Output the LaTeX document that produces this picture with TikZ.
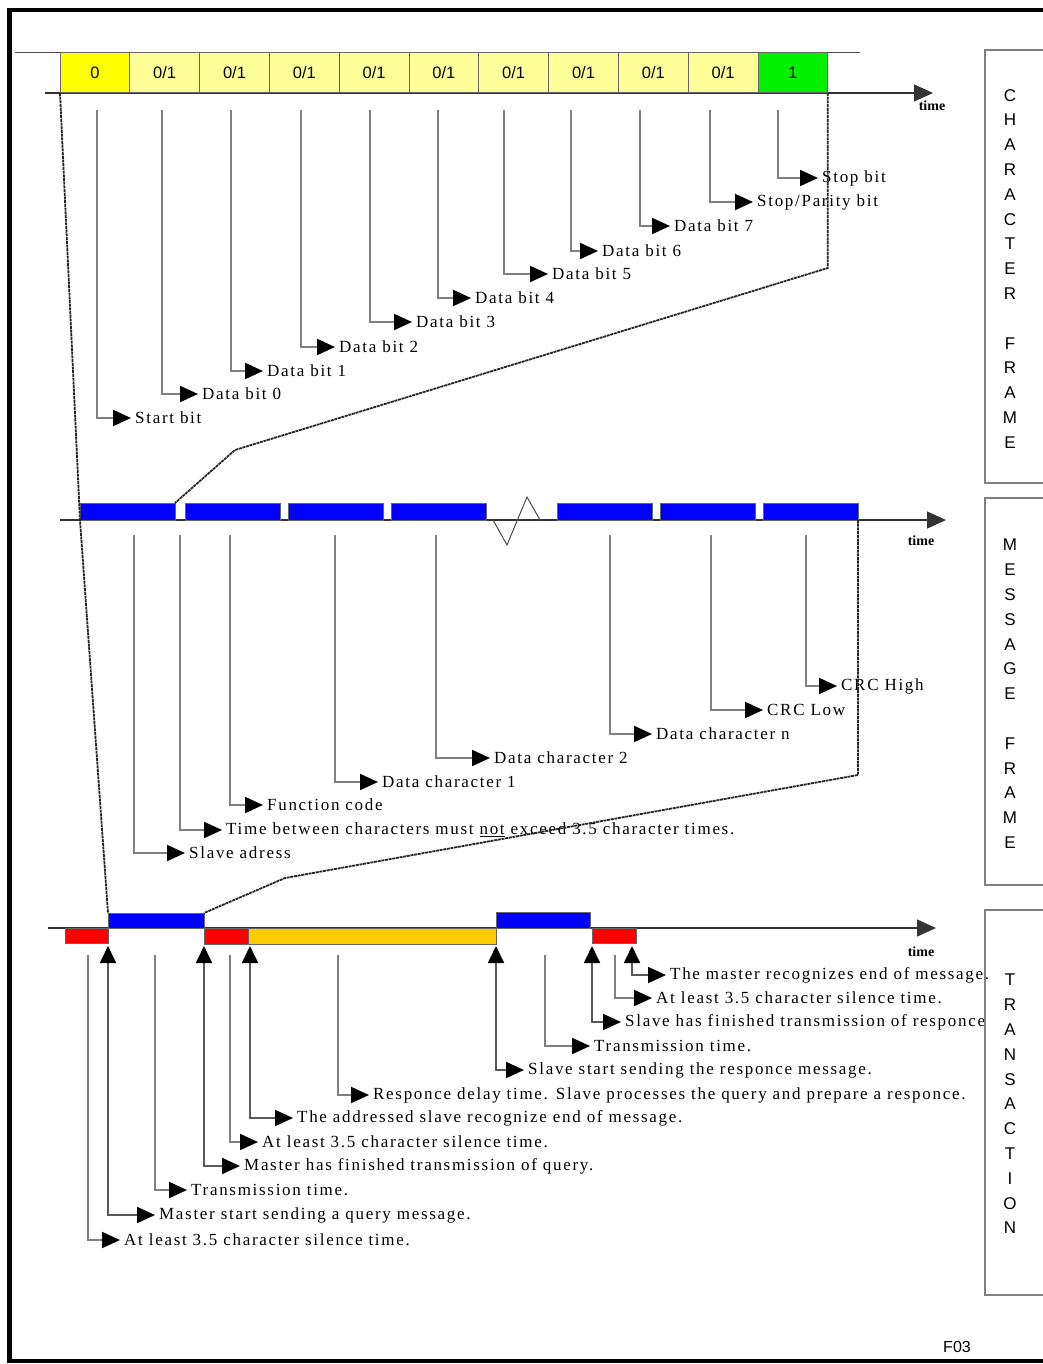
\documentclass[tikz,border=0pt]{standalone}
\usepackage{fontspec}
\setmainfont{Liberation Serif}
\setsansfont{Liberation Sans}
\newfontfamily\lblfont[LetterSpace=10]{Liberation Serif}
\usepackage{tikz}
\usetikzlibrary{arrows.meta, positioning, calc}

\definecolor{startyellow}{HTML}{FFFF00}
\definecolor{bityellow}{HTML}{FFFF99}
\definecolor{stopgreen}{HTML}{00F000}
\definecolor{msgblue}{HTML}{0000FF}
\definecolor{silred}{HTML}{FF0000}
\definecolor{delayorange}{HTML}{FFCC00}

\begin{document}
\begin{tikzpicture}[
  x=1pt, y=-1pt,
  bitbox/.style = {draw=black!60, line width=1pt, anchor=north west, outer sep=0pt, inner sep=0pt,
                   minimum width=69.8pt, minimum height=40pt, font=\fontsize{16.5}{18}\selectfont\sffamily},
  blk/.style = {draw=black!60, line width=0.8pt, anchor=north west, outer sep=0pt, inner sep=0pt},
  lbl/.style = {anchor=west, inner sep=4pt, font=\fontsize{17}{19}\lblfont},
  pointer/.style = {black!50, line width=2pt, -{Triangle[length=18pt, width=16pt, color=black]}},
  uppointer/.style = {black!65, line width=1.8pt,
                      {Triangle[length=17pt, width=16pt, color=black]}-{Triangle[length=18pt, width=16pt, color=black]}},
  timeaxis/.style = {black!80, line width=1.2pt, -{Triangle[length=19pt, width=17pt]}},
  zoomline/.style = {black!85, line width=1.8pt, dash pattern=on 3pt off 0.7pt},
  sidebox/.style = {draw=gray, line width=2pt},
  sidetxt/.style = {anchor=north, inner sep=0pt, align=center, font=\fontsize{17}{24.8}\selectfont\sffamily},
  timelbl/.style = {inner sep=0pt, font=\fontsize{14}{16}\selectfont\bfseries}
]
  \useasboundingbox (0,0) rectangle (1042,1364);
  \draw[line width=4.5pt] (9.5,10) rectangle (1060,1361);

  % Character frame
  \draw[black!70, line width=1pt] (15,53) -- (860,53);
  \draw[timeaxis] (45,93) -- (933,93);
  \node[timelbl] (t_char) at (932,106) {time};

  \node[bitbox, fill=startyellow] (b0) at (60,53) {0};
  \node[bitbox, fill=bityellow, right=0pt of b0] (b1) {0/1};
  \node[bitbox, fill=bityellow, right=0pt of b1] (b2) {0/1};
  \node[bitbox, fill=bityellow, right=0pt of b2] (b3) {0/1};
  \node[bitbox, fill=bityellow, right=0pt of b3] (b4) {0/1};
  \node[bitbox, fill=bityellow, right=0pt of b4] (b5) {0/1};
  \node[bitbox, fill=bityellow, right=0pt of b5] (b6) {0/1};
  \node[bitbox, fill=bityellow, right=0pt of b6] (b7) {0/1};
  \node[bitbox, fill=bityellow, right=0pt of b7] (b8) {0/1};
  \node[bitbox, fill=bityellow, right=0pt of b8] (b9) {0/1};
  \node[bitbox, fill=stopgreen, right=0pt of b9] (b10) {1};

  \coordinate (c_start) at (97,110);
  \node[lbl] (l_start) at (131,418) {Start bit};
  \coordinate (c_d0) at (162,110);
  \node[lbl] (l_d0) at (198,394) {Data bit 0};
  \coordinate (c_d1) at (231,110);
  \node[lbl] (l_d1) at (263,371) {Data bit 1};
  \coordinate (c_d2) at (301,110);
  \node[lbl] (l_d2) at (335,347) {Data bit 2};
  \coordinate (c_d3) at (370,110);
  \node[lbl] (l_d3) at (412,322) {Data bit 3};
  \coordinate (c_d4) at (438,110);
  \node[lbl] (l_d4) at (471,298) {Data bit 4};
  \coordinate (c_d5) at (504,110);
  \node[lbl] (l_d5) at (548,274) {Data bit 5};
  \coordinate (c_d6) at (571,110);
  \node[lbl] (l_d6) at (598,251) {Data bit 6};
  \coordinate (c_d7) at (640,110);
  \node[lbl] (l_d7) at (670,226) {Data bit 7};
  \coordinate (c_sp) at (710,110);
  \node[lbl] (l_sp) at (753,202) {Stop/Parity bit};
  \coordinate (c_stop) at (778,110);
  \node[lbl] (l_stop) at (818,178) {Stop bit};

  \draw[pointer] (c_start) |- (l_start.west);
  \draw[pointer] (c_d0) |- (l_d0.west);
  \draw[pointer] (c_d1) |- (l_d1.west);
  \draw[pointer] (c_d2) |- (l_d2.west);
  \draw[pointer] (c_d3) |- (l_d3.west);
  \draw[pointer] (c_d4) |- (l_d4.west);
  \draw[pointer] (c_d5) |- (l_d5.west);
  \draw[pointer] (c_d6) |- (l_d6.west);
  \draw[pointer] (c_d7) |- (l_d7.west);
  \draw[pointer] (c_sp) |- (l_sp.west);
  \draw[pointer] (c_stop) |- (l_stop.west);

  % Message frame
  \draw[timeaxis] (60,520) -- (946,520);
  \node[timelbl] (t_msg) at (921,541) {time};

  \node[blk, fill=msgblue, minimum width=95pt, minimum height=17pt] (m1) at (80,503) {};
  \node[blk, fill=msgblue, minimum width=95pt, minimum height=17pt, right=10pt of m1] (m2) {};
  \node[blk, fill=msgblue, minimum width=95pt, minimum height=17pt, right=8pt of m2] (m3) {};
  \node[blk, fill=msgblue, minimum width=95pt, minimum height=17pt, right=8pt of m3] (m4) {};
  \node[blk, fill=msgblue, minimum width=95pt, minimum height=17pt] (m5) at (557,503) {};
  \node[blk, fill=msgblue, minimum width=95pt, minimum height=17pt, right=8pt of m5] (m6) {};
  \node[blk, fill=msgblue, minimum width=95pt, minimum height=17pt, right=8pt of m6] (m7) {};
  \draw[black!70, line width=1pt] (493,520) -- (507,545) -- (527,497) -- (540,520);

  \coordinate (c_slave) at (134,535);
  \node[lbl] (l_slave) at (185,853) {Slave adress};
  \coordinate (c_gap) at (180,535);
  \node[lbl] (l_gap) at (222,830) {Time between characters must \underline{not} exceed 3.5 character times.};
  \coordinate (c_func) at (230,535);
  \node[lbl] (l_func) at (263,805) {Function code};
  \coordinate (c_dc1) at (335,535);
  \node[lbl] (l_dc1) at (378,782) {Data character 1};
  \coordinate (c_dc2) at (436,535);
  \node[lbl] (l_dc2) at (490,758) {Data character 2};
  \coordinate (c_dcn) at (610,535);
  \node[lbl] (l_dcn) at (652,734) {Data character n};
  \coordinate (c_crcl) at (711,535);
  \node[lbl] (l_crcl) at (763,710) {CRC Low};
  \coordinate (c_crch) at (806,535);
  \node[lbl] (l_crch) at (837,686) {CRC High};

  \draw[pointer] (c_slave) |- (l_slave.west);
  \draw[pointer] (c_gap) |- (l_gap.west);
  \draw[pointer] (c_func) |- (l_func.west);
  \draw[pointer] (c_dc1) |- (l_dc1.west);
  \draw[pointer] (c_dc2) |- (l_dc2.west);
  \draw[pointer] (c_dcn) |- (l_dcn.west);
  \draw[pointer] (c_crcl) |- (l_crcl.west);
  \draw[pointer] (c_crch) |- (l_crch.west);

  % Transaction
  \draw[timeaxis] (48,928) -- (936,928);
  \node[timelbl] (t_tr) at (921,952) {time};

  \node[blk, fill=silred, minimum width=43pt, minimum height=15pt] (q_r1) at (65,928) {};
  \node[blk, fill=msgblue, minimum width=96pt, minimum height=15pt] (q_b1) at (108,913) {};
  \node[blk, fill=silred, minimum width=44pt, minimum height=16pt] (q_r2) at (204,928) {};
  \node[blk, fill=delayorange, minimum width=248pt, minimum height=16pt] (q_o) at (248,928) {};
  \node[blk, fill=msgblue, minimum width=94pt, minimum height=16pt] (q_b2) at (496,912) {};
  \node[blk, fill=silred, minimum width=44pt, minimum height=15pt] (q_r3) at (592,928) {};

  \coordinate (u_mrec) at (632,946);
  \node[lbl] (l_mrec) at (666,975) {The master recognizes end of message.};
  \coordinate (c_sil3) at (615,955);
  \node[lbl] (l_sil3) at (652,998) {At least 3.5 character silence time.};
  \coordinate (u_sfin) at (592,946);
  \node[lbl] (l_sfin) at (621,1022) {Slave has finished transmission of responce};
  \coordinate (c_tx2) at (545,955);
  \node[lbl] (l_tx2) at (590,1046) {Transmission time.};
  \coordinate (u_sst) at (496,946);
  \node[lbl] (l_sst) at (524,1070) {Slave start sending the responce message.};
  \coordinate (c_delay) at (338,955);
  \node[lbl] (l_delay) at (369,1095) {Responce delay time. Slave processes the query and prepare a responce.};
  \coordinate (u_srec) at (250,946);
  \node[lbl] (l_srec) at (293,1118) {The addressed slave recognize end of message.};
  \coordinate (c_sil2) at (230,955);
  \node[lbl] (l_sil2) at (258,1142) {At least 3.5 character silence time.};
  \coordinate (u_mfin) at (204,946);
  \node[lbl] (l_mfin) at (240,1166) {Master has finished transmission of query.};
  \coordinate (c_tx1) at (155,955);
  \node[lbl] (l_tx1) at (187,1190) {Transmission time.};
  \coordinate (u_mst) at (108,946);
  \node[lbl] (l_mst) at (155,1215) {Master start sending a query message.};
  \coordinate (c_sil1) at (88,955);
  \node[lbl] (l_sil1) at (120,1240) {At least 3.5 character silence time.};

  \draw[uppointer] (u_mrec) |- (l_mrec.west);
  \draw[pointer] (c_sil3) |- (l_sil3.west);
  \draw[uppointer] (u_sfin) |- (l_sfin.west);
  \draw[pointer] (c_tx2) |- (l_tx2.west);
  \draw[uppointer] (u_sst) |- (l_sst.west);
  \draw[pointer] (c_delay) |- (l_delay.west);
  \draw[uppointer] (u_srec) |- (l_srec.west);
  \draw[pointer] (c_sil2) |- (l_sil2.west);
  \draw[uppointer] (u_mfin) |- (l_mfin.west);
  \draw[pointer] (c_tx1) |- (l_tx1.west);
  \draw[uppointer] (u_mst) |- (l_mst.west);
  \draw[pointer] (c_sil1) |- (l_sil1.west);

  % Zoom lines between the frames
  \coordinate (bend_char) at (235,450);
  \coordinate (bend_msg) at (285,878);
  \draw[zoomline] (b0.south west) -- (m1.south west) -- (q_b1.north west);
  \draw[zoomline] (b10.south east) -- ++(0,175) -- (bend_char) -- (m1.north east);
  \draw[zoomline] (m7.south east) -- ++(0,255) -- (bend_msg) -- (q_b1.north east);

  % Side captions
  \draw[sidebox] (985,50) rectangle (1060,483);
  \draw[sidebox] (985,498) rectangle (1060,885);
  \draw[sidebox] (985,910) rectangle (1060,1295);
  \node[sidetxt] (s_char) at (1010,89) {C\\H\\A\\R\\A\\C\\T\\E\\R\\[24.8pt]F\\R\\A\\M\\E};
  \node[sidetxt] (s_msg) at (1010,539) {M\\E\\S\\S\\A\\G\\E\\[24.8pt]F\\R\\A\\M\\E};
  \node[sidetxt] (s_tr) at (1010,974) {T\\R\\A\\N\\S\\A\\C\\T\\I\\O\\N};
  \node[inner sep=0pt, font=\fontsize{16}{18}\selectfont\sffamily] (fig) at (957,1347) {F03};
\end{tikzpicture}
\end{document}
